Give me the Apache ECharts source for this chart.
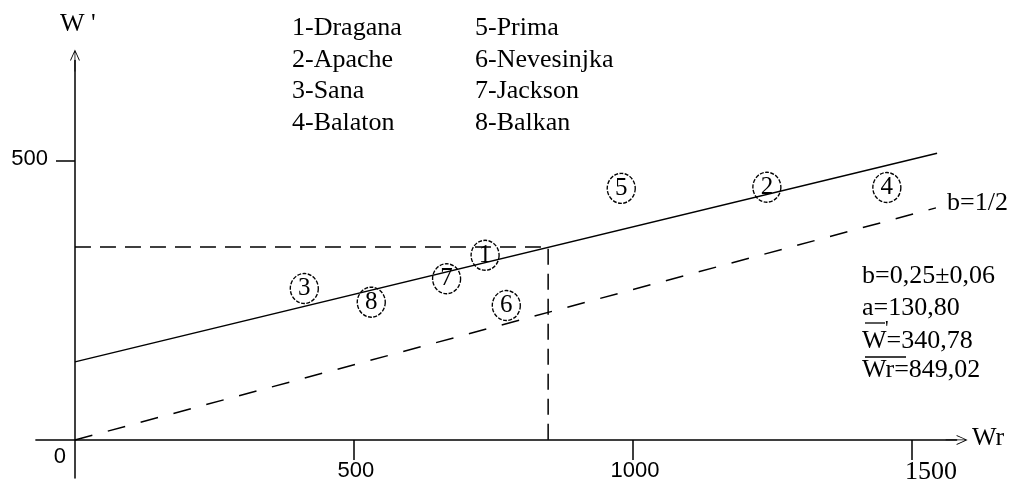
<!DOCTYPE html>
<html>
<head>
<meta charset="utf-8">
<script src="https://cdn.jsdelivr.net/npm/echarts@6/dist/echarts.min.js"></script>
<style>html,body{margin:0;padding:0;background:#fff}#c{width:1011px;height:484px}</style>
</head>
<body>
<div id="c"></div>
<script>
// ---- data ----
const varieties = ['Dragana','Apache','Sana','Balaton','Prima','Nevesinjka','Jackson','Balkan'];
const pointNo   = [1, 2, 3, 4, 5, 6, 7, 8];
const wr        = [735, 1240, 411, 1455, 979, 773, 666, 531];
const wPrime    = [331, 453, 271.5, 452.5, 451, 241, 289, 247];
const fitX      = [0, 1545];
const fitY      = [140, 514];
const halfX     = [0, 1543];
const halfY     = [0, 416];
const meanWr    = 848;
const meanW     = 346;
const xTicks    = [500, 1000, 1500];
const yTicks    = [500];
const statLines = ['b=0,25\u00b10,06', 'a=130,80', 'W=340,78', 'Wr=849,02'];
const halfLabel = 'b=1/2';

const serif = '"Liberation Serif","Times New Roman",serif';
const sans = '"Liberation Sans",Arial,sans-serif';
const arrowPath = 'path://M5,0 L10,11 L9,11 L5.4,2.6 L5.4,22 L4.6,22 L4.6,2.6 L1,11 L0,11 Z';

const chart = echarts.init(document.getElementById('c'));

const legendTexts = [];
varieties.forEach((v, i) => {
  const col = i < 4 ? 0 : 1;
  const row = i % 4;
  legendTexts.push({
    type: 'text',
    style: {
      text: pointNo[i] + '-' + v,
      x: col === 0 ? 292 : 475,
      y: 28.5 + row * 31.5,
      font: '26px ' + serif,
      fill: '#000',
      textVerticalAlign: 'middle'
    }
  });
});
const statYs = [276.5, 308.5, 341, 370];
const statTexts = statLines.map((t, i) => ({
  type: 'text',
  style: { text: t, x: 862, y: statYs[i], font: '26px ' + serif, fill: '#000', textVerticalAlign: 'middle' }
}));

chart.setOption({
  animation: false,
  grid: { left: 35.9, right: 54.4, top: 60.6, bottom: 6.1, containLabel: false, outerBoundsMode: 'none' },
  xAxis: {
    type: 'value', min: -70, max: 1580,
    splitLine: { show: false },
    axisLine: { onZero: true, lineStyle: { color: '#000', width: 1.5 }, symbol: ['none', arrowPath], symbolSize: [15, 22] },
    axisTick: { show: true, customValues: xTicks, length: 20, lineStyle: { color: '#000', width: 1.5 } },
    axisLabel: { show: false }
  },
  yAxis: {
    type: 'value', min: -68, max: 680,
    splitLine: { show: false },
    axisLine: { onZero: true, lineStyle: { color: '#000', width: 1.5 }, symbol: ['none', arrowPath], symbolSize: [19, 22] },
    axisTick: { show: true, customValues: yTicks, length: 19, lineStyle: { color: '#000', width: 1.5 } },
    axisLabel: { show: false }
  },
  series: [
    {
      type: 'line', data: fitX.map((x, i) => [x, fitY[i]]), symbol: 'none',
      lineStyle: { color: '#000', width: 1.5 }, z: 2
    },
    {
      type: 'line', data: halfX.map((x, i) => [x, halfY[i]]), symbol: 'none',
      lineStyle: { color: '#000', width: 1.5, type: [18, 16] }, z: 2
    },
    {
      type: 'line', data: [[0, meanW], [meanWr, meanW], [meanWr, 0]], symbol: 'none',
      lineStyle: { color: '#000', width: 1.5, type: [16, 9] }, z: 2
    },
    {
      type: 'scatter', z: 3,
      data: wr.map((x, i) => [x, wPrime[i], pointNo[i]]),
      symbol: 'circle', symbolSize: [28, 30],
      itemStyle: { color: 'rgba(255,255,255,0)', borderColor: '#000', borderWidth: 1.4, borderType: [4, 1.5], opacity: 1 },
      label: {
        show: true, position: 'inside', formatter: p => String(p.value[2]),
        color: '#000', fontFamily: serif, fontSize: 25, textBorderWidth: 0, opacity: 1
      }
    }
  ]
});

// tick labels placed from the library's own scales
const tickLabels = [];
xTicks.forEach(v => {
  const p = chart.convertToPixel({ gridIndex: 0 }, [v, 0]);
  const isSerif = v === 1500;
  tickLabels.push({
    type: 'text',
    style: {
      text: String(v),
      x: p[0] + (isSerif ? 19 : 2),
      y: p[1] + (isSerif ? 32 : 31),
      font: isSerif ? '26px ' + serif : '22px ' + sans,
      fill: '#000', textAlign: 'center', textVerticalAlign: 'middle'
    }
  });
});
yTicks.forEach(v => {
  const p = chart.convertToPixel({ gridIndex: 0 }, [0, v]);
  tickLabels.push({
    type: 'text',
    style: {
      text: String(v), x: p[0] - 27, y: p[1] - 2.5,
      font: '22px ' + sans, fill: '#000', textAlign: 'right', textVerticalAlign: 'middle'
    }
  });
});
const o = chart.convertToPixel({ gridIndex: 0 }, [0, 0]);

chart.setOption({
  graphic: [
    ...legendTexts,
    ...statTexts,
    ...tickLabels,
    { type: 'text', style: { text: '0', x: o[0] - 15, y: o[1] + 17, font: '22px ' + sans, fill: '#000', textAlign: 'center', textVerticalAlign: 'middle' } },
    { type: 'text', style: { text: 'W \'', x: 60, y: 24, font: '26px ' + serif, fill: '#000', textVerticalAlign: 'middle' } },
    { type: 'text', style: { text: 'Wr', x: 972, y: 438, font: '26px ' + serif, fill: '#000', textVerticalAlign: 'middle' } },
    { type: 'text', style: { text: halfLabel, x: 947, y: 203, font: '26px ' + serif, fill: '#000', textVerticalAlign: 'middle' } },
    { type: 'text', style: { text: '\'', x: 885, y: 330, font: '20px ' + serif, fill: '#000', textVerticalAlign: 'middle' } },
    { type: 'line', shape: { x1: 865, y1: 323, x2: 885, y2: 323 }, style: { stroke: '#000', lineWidth: 1.3 } },
    { type: 'line', shape: { x1: 865, y1: 357, x2: 906, y2: 357 }, style: { stroke: '#000', lineWidth: 1.3 } }
  ]
});
</script>
</body>
</html>
